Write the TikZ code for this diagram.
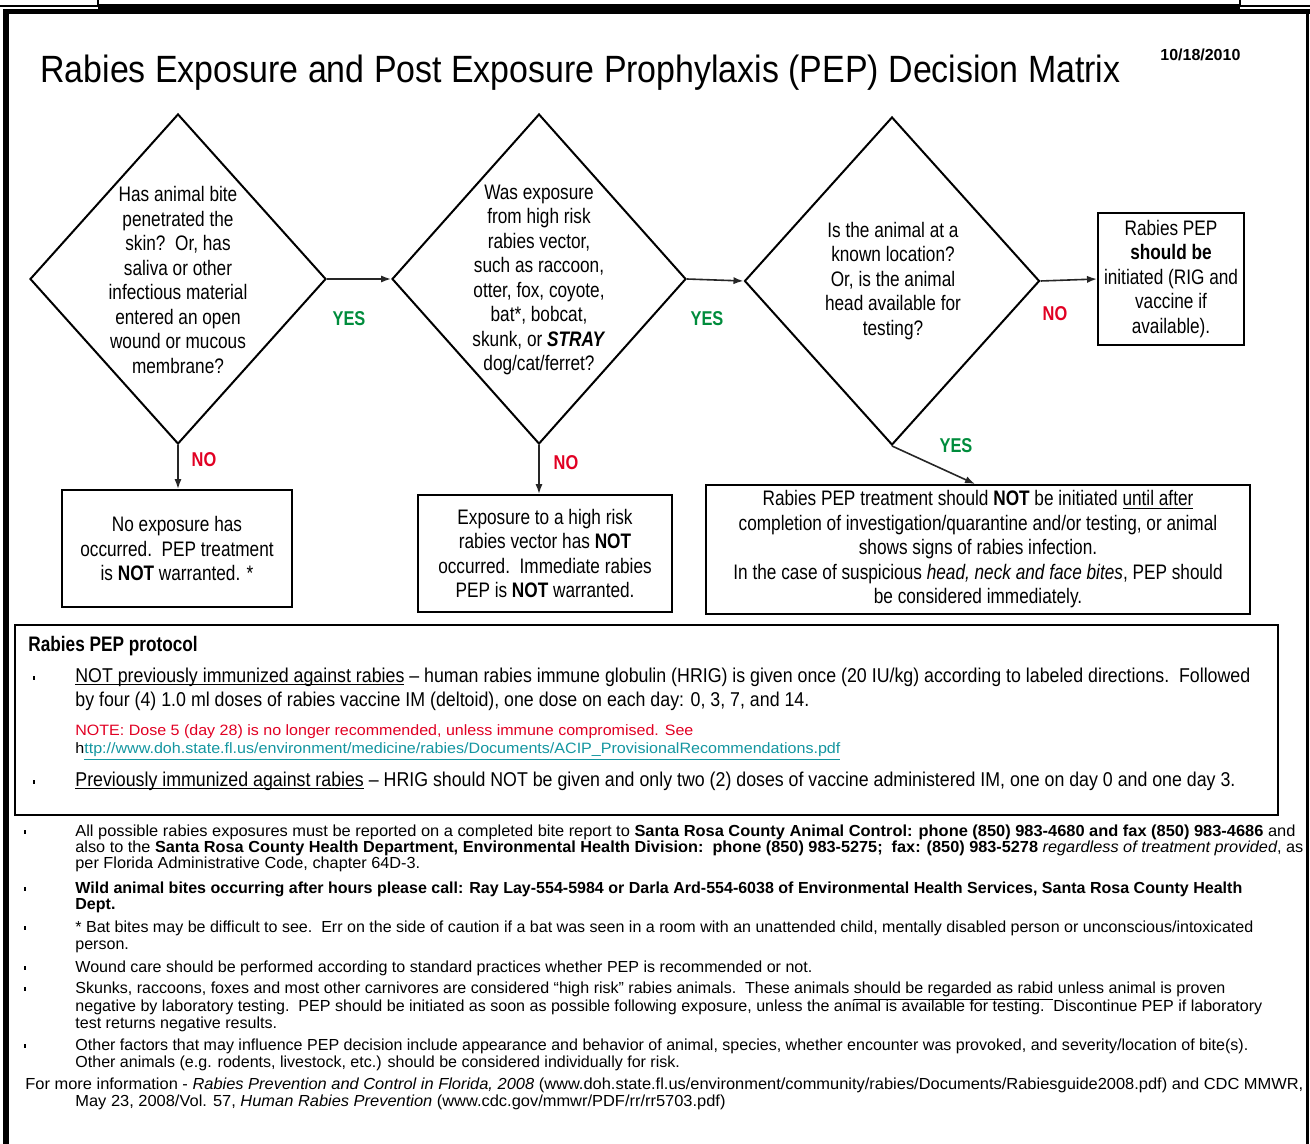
\documentclass[tikz,border=0pt]{standalone}
\usepackage{fontspec}
\setmainfont{Liberation Sans}
\newfontfamily\narrow{Liberation Sans}[FakeStretch=0.82]
\usepackage{graphicx}
\usetikzlibrary{shapes.geometric,arrows.meta}
\definecolor{nored}{RGB}{225,0,35}
\definecolor{yesgreen}{RGB}{0,140,60}
\definecolor{linkteal}{RGB}{20,150,160}
\newcommand\fitw[2]{\resizebox{#1}{\height}{#2}}
\newsavebox\tmpbox
\newsavebox\ulbox
\newlength\tmplen
\newcommand\fitsave[2]{\sbox\tmpbox{#2}\setlength\tmplen{\wd\tmpbox}\pgfmathsetmacro\tmpsx{#1/\tmplen}\xdef\lastsx{\tmpsx}\scalebox{\lastsx}[1]{\usebox\tmpbox}}
\newcommand\fitlast[1]{\scalebox{\lastsx}[1]{#1}}
\newcommand\myul[1]{\sbox\ulbox{#1}\rlap{\rule[-1.4pt]{\wd\ulbox}{0.5pt}}\usebox\ulbox}
\begin{document}
\begin{tikzpicture}[x=0.5pt,y=-0.5pt,
  dia/.style={draw, diamond, line width=1pt, inner sep=0pt, minimum width=148pt, minimum height=165pt},
  box/.style={draw, line width=1pt, inner sep=0pt, align=center, font=\narrow\fontsize{10.5}{12.25}\selectfont},
  qtext/.style={inner sep=0pt, align=center, font=\narrow\fontsize{10.5}{12.25}\selectfont},
  arr/.style={-{Latex[length=5pt,width=3.6pt]}, line width=0.8pt, draw=black!85},
  yeslab/.style={inner sep=0pt, font=\narrow\bfseries\fontsize{10}{12}\selectfont, text=yesgreen},
  nolab/.style={inner sep=0pt, font=\narrow\bfseries\fontsize{10}{12}\selectfont, text=nored},
  pl/.style={anchor=mid west, inner sep=0pt, font=\narrow\fontsize{10}{12}\selectfont},
  sl/.style={anchor=mid west, inner sep=0pt, font=\fontsize{8}{9}\selectfont},
  bul/.style={inner sep=0pt, fill=black, minimum width=1.4pt, minimum height=1.8pt}
]
\useasboundingbox (0,0) rectangle (1310,1144);
% page frame
\fill (0,5) rectangle (98,7);
\fill (1240,5) rectangle (1310,7);
\draw[line width=0.7pt] (98,0) -- (98,7) (1240,0) -- (1240,7);
\fill (98,4) rectangle (1240,13);
\fill (3,9) rectangle (1310,14);
\fill (3,9) rectangle (9,1144);
\fill (1306,9) rectangle (1308.5,1144);

% title and date
\node[anchor=mid west, inner sep=0pt] (title) at (40,77) {\fitw{540pt}{\narrow\fontsize{19}{22}\selectfont Rabies Exposure and Post Exposure Prophylaxis (PEP) Decision Matrix}};
\node[anchor=mid west, inner sep=0pt] (date) at (1160,55) {\fitw{40pt}{\narrow\bfseries\fontsize{8}{9}\selectfont 10/18/2010}};

% diamonds
\node[dia] (d1) at (178,279) {};
\node[dia, minimum width=147pt] (d2) at (539,279) {};
\node[dia, minimum width=147.5pt, minimum height=164pt] (d3) at (892,281) {};
\node[qtext] (t1) at (178,280) {Has animal bite\\penetrated the\\skin?\ \ Or, has\\saliva or other\\infectious material\\entered an open\\wound or mucous\\membrane?};
\node[qtext] (t2) at (539,280) {Was exposure\\from high risk\\rabies vector,\\such as raccoon,\\otter, fox, coyote,\\bat*, bobcat,\\skunk, or \textbf{\itshape STRAY}\\dog/cat/ferret?};
\node[qtext] (t3) at (893,281) {Is the animal at a\\known location?\\Or, is the animal\\head available for\\testing?};

% boxes
\node[box, minimum width=73pt, minimum height=66pt] (b4) at (1171,279) {Rabies PEP\\\textbf{should be}\\initiated (RIG and\\vaccine if\\available).};
\node[box, minimum width=115pt, minimum height=58.5pt] (b1) at (177,548.5) {No exposure has\\occurred.\ \ PEP treatment\\is \textbf{NOT} warranted. *};
\node[box, minimum width=127pt, minimum height=58.5pt] (b2) at (545,553.5) {Exposure to a high risk\\rabies vector has \textbf{NOT}\\occurred.\ \ Immediate rabies\\PEP is \textbf{NOT} warranted.};
\node[box, minimum width=272pt, minimum height=64.5pt] (b3) at (978,549.5) {Rabies PEP treatment should \textbf{NOT} be initiated \myul{until after}\\completion of investigation/quarantine and/or testing, or animal\\shows signs of rabies infection.\\In the case of suspicious \textit{head, neck and face bites}, PEP should\\be considered immediately.};

% connectors
\coordinate (yt) at (975,0);
\draw[arr] (d1.east) -- (d2.west);
\draw[arr] (d2.east) -- (d3.west);
\draw[arr] (d3.east) -- (b4.west);
\draw[arr] (d1.south) -- (d1.south |- b1.north);
\draw[arr] (d2.south) -- (d2.south |- b2.north);
\draw[arr] (d3.south) -- (b3.north -| yt);
\node[yeslab] (y1) at (349,319) {YES};
\node[yeslab] (y2) at (707,319) {YES};
\node[yeslab] (y3) at (956,446) {YES};
\node[nolab] (n1) at (204,460) {NO};
\node[nolab] (n2) at (566,463) {NO};
\node[nolab] (n3) at (1055,314) {NO};

% protocol box
\node[draw, line width=1pt, inner sep=0pt, minimum width=631.5pt, minimum height=95pt] (pb) at (646.5,720) {};
\node[pl, font=\narrow\bfseries\fontsize{10.5}{12}\selectfont] (ph) at (28,646) {Rabies PEP protocol};
\node[bul] (pb1) at (34,678) {};
\node[pl] (p1) at (75,677) {\fitsave{587.5pt}{\myul{NOT previously immunized against rabies} – human rabies immune globulin (HRIG) is given once (20 IU/kg) according to labeled directions.\ \ Followed}};
\node[pl] (p2) at (75,701) {\fitlast{by four (4) 1.0 ml doses of rabies vaccine IM (deltoid), one dose on each day: 0, 3, 7, and 14.}};
\node[sl, text=nored] (p3) at (75,730) {\fitw{309pt}{\fontsize{7.5}{9}\selectfont NOTE: Dose 5 (day 28) is no longer recommended, unless immune compromised. See}};
\node[sl] (p4) at (75,748) {\fitw{382.5pt}{\fontsize{7.5}{9}\selectfont h\textcolor{linkteal}{\underline{ttp://www.doh.state.fl.us/environment/medicine/rabies/Documents/ACIP\_ProvisionalRecommendations.pdf}}}};
\node[bul] (pb2) at (34,782) {};
\node[pl] (p5) at (75,781) {\fitw{580pt}{\myul{Previously immunized against rabies} – HRIG should NOT be given and only two (2) doses of vaccine administered IM, one on day 0 and one day 3.}};

% notes
\node[bul] (sb1) at (25,832) {};
\node[sl] (s1) at (75,831) {\fitsave{610pt}{All possible rabies exposures must be reported on a completed bite report to \textbf{Santa Rosa County Animal Control: phone (850) 983-4680 and fax (850) 983-4686} and}};
\node[sl] (s2) at (75,847) {\fitsave{614pt}{also to the \textbf{Santa Rosa County Health Department, Environmental Health Division:\ \ phone (850) 983-5275;\ \ fax: (850) 983-5278} \textit{regardless of treatment provided}, as}};
\node[sl] (s3) at (75,863) {\fitlast{per Florida Administrative Code, chapter 64D-3.}};
\node[bul] (sb2) at (25,889) {};
\node[sl] (s4) at (75,888) {\fitsave{583.5pt}{\textbf{Wild animal bites occurring after hours please call: Ray Lay-554-5984 or Darla Ard-554-6038 of Environmental Health Services, Santa Rosa County Health}}};
\node[sl] (s5) at (75,904) {\fitlast{\textbf{Dept.}}};
\node[bul] (sb3) at (25,928) {};
\node[sl] (s6) at (75,927) {\fitsave{589pt}{* Bat bites may be difficult to see.\ \ Err on the side of caution if a bat was seen in a room with an unattended child, mentally disabled person or unconscious/intoxicated}};
\node[sl] (s7) at (75,944) {\fitlast{person.}};
\node[bul] (sb4) at (25,968) {};
\node[sl] (s8) at (75,967) {\fitw{368.5pt}{Wound care should be performed according to standard practices whether PEP is recommended or not.}};
\node[bul] (sb5) at (25,989) {};
\node[sl] (s9) at (75,988) {\fitw{575pt}{Skunks, raccoons, foxes and most other carnivores are considered “high risk” rabies animals.\ \ These animals \underline{should be regarded as rabid} unless animal is proven}};
\node[sl] (s10) at (75,1006) {\fitsave{593.5pt}{negative by laboratory testing.\ \ PEP should be initiated as soon as possible following exposure, unless the animal is available for testing.\ \ Discontinue PEP if laboratory}};
\node[sl] (s11) at (75,1023) {\fitlast{test returns negative results.}};
\node[bul] (sb6) at (25,1046) {};
\node[sl] (s12) at (75,1045) {\fitsave{586.5pt}{Other factors that may influence PEP decision include appearance and behavior of animal, species, whether encounter was provoked, and severity/location of bite(s).}};
\node[sl] (s13) at (75,1062) {\fitlast{Other animals (e.g. rodents, livestock, etc.) should be considered individually for risk.}};
\node[sl] (s14) at (25,1084) {\fitsave{639pt}{For more information - \textit{Rabies Prevention and Control in Florida, 2008} (www.doh.state.fl.us/environment/community/rabies/Documents/Rabiesguide2008.pdf) and CDC MMWR,}};
\node[sl] (s15) at (75,1101) {\fitlast{May 23, 2008/Vol. 57, \textit{Human Rabies Prevention} (www.cdc.gov/mmwr/PDF/rr/rr5703.pdf)}};
\end{tikzpicture}
\end{document}
